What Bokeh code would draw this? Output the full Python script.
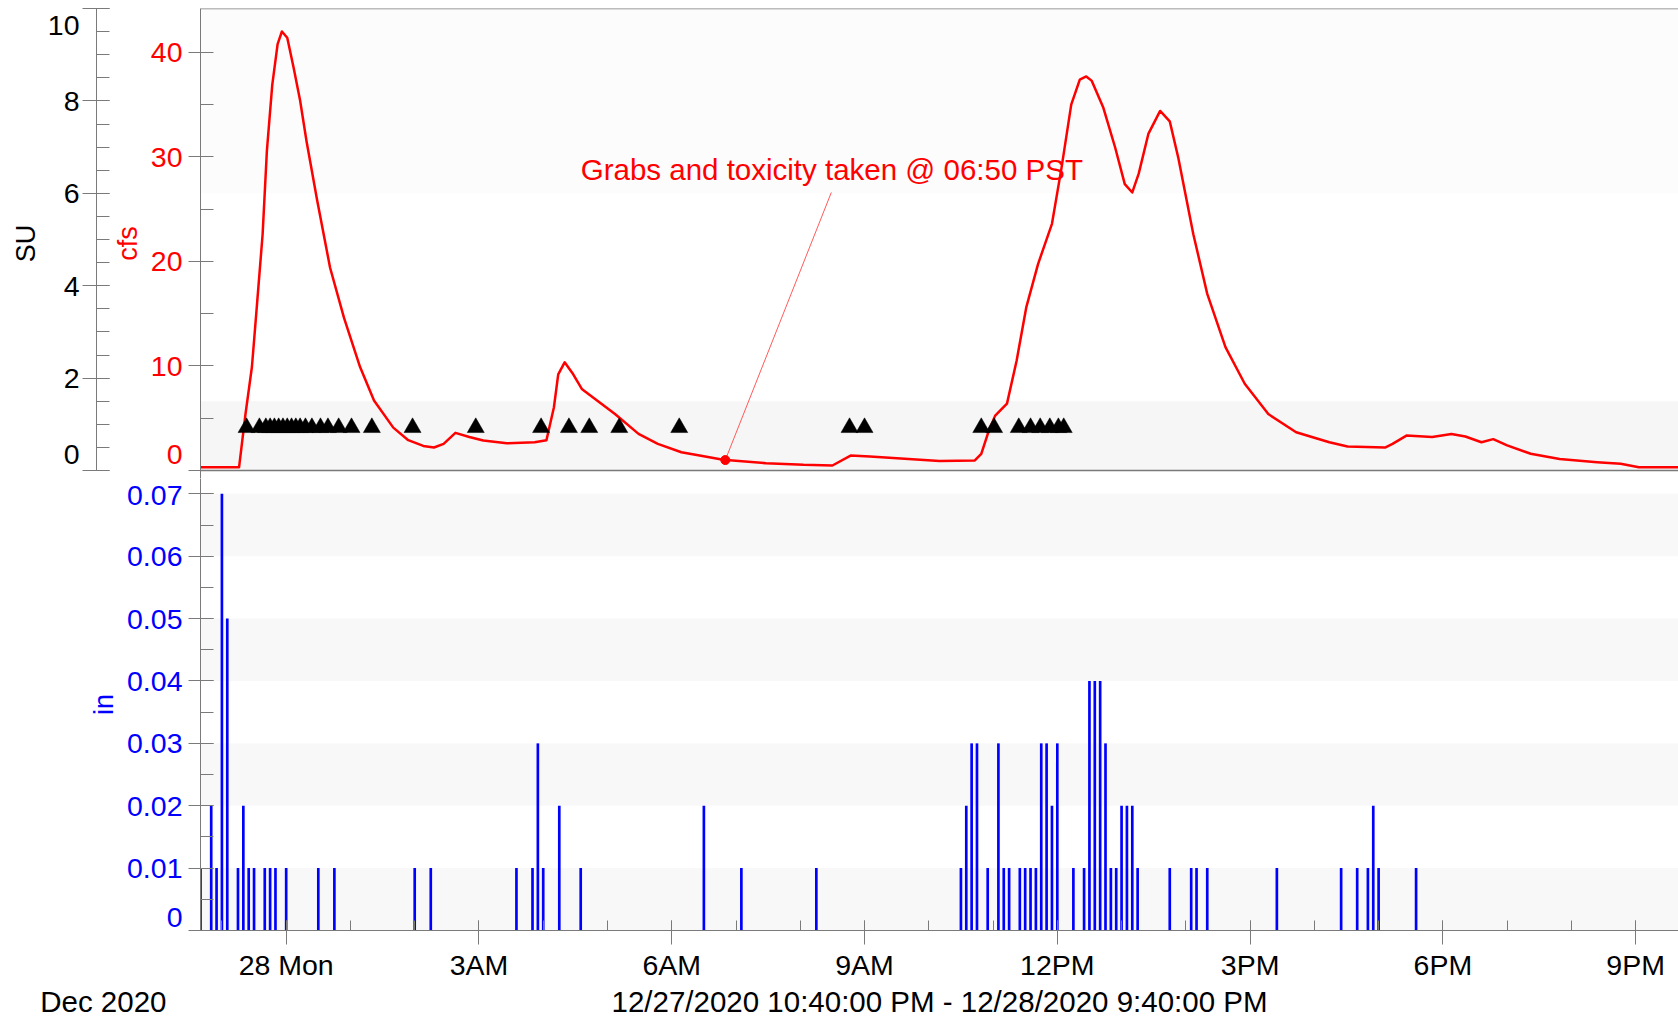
import numpy as np
import pandas as pd
from bokeh.plotting import figure
from bokeh.layouts import column
from bokeh.models import (Range1d, LinearAxis, FixedTicker, BoxAnnotation, Label,
                          Span, ColumnDataSource)
from bokeh.embed import file_html
from bokeh.resources import INLINE

FONT = "Liberation Sans"

# ---------------- data ----------------
x_start_hhmm = "22:40"   # 12/27/2020
x_end_hhmm = "21:40"     # 12/28/2020

flow_hhmm = ["22:40", "23:16", "23:22", "23:28", "23:33", "23:38", "23:42", "23:47", "23:52", "23:56",
             "00:01", "00:07", "00:13", "00:19", "00:29", "00:41", "00:54", "01:09", "01:22", "01:40",
             "01:54", "02:08", "02:18", "02:27", "02:38", "02:51", "03:04", "03:26", "03:52", "04:03",
             "04:10", "04:14", "04:20", "04:28", "04:36", "04:54", "05:07", "05:29", "05:47", "06:09",
             "06:26", "06:48", "07:28", "08:03", "08:30", "08:47", "09:05", "10:10", "10:43", "10:49",
             "10:56", "11:02", "11:13", "11:22", "11:31", "11:42", "11:55", "12:04", "12:13", "12:21",
             "12:27", "12:32", "12:43", "12:54", "13:03", "13:10", "13:16", "13:25", "13:36", "13:45",
             "13:53", "14:07", "14:20", "14:37", "14:55", "15:17", "15:43", "16:14", "16:31", "17:06",
             "17:13", "17:26", "17:50", "18:08", "18:21", "18:36", "18:47", "19:00", "19:22", "19:49",
             "20:24", "20:46", "21:03", "21:40"]
flow_cfs = [0.3, 0.3, 5.4, 9.9, 16.2, 22.6, 30.6, 36.9, 40.8, 42.0,
            41.4, 38.5, 35.4, 31.5, 25.8, 19.4, 14.6, 9.9, 6.7, 4.1,
            2.9, 2.35, 2.2, 2.55, 3.6, 3.2, 2.87, 2.6, 2.7, 2.9,
            6.05, 9.2, 10.35, 9.2, 7.8, 6.4, 5.4, 3.5, 2.55, 1.75,
            1.43, 1.02, 0.70, 0.54, 0.48, 1.43, 1.34, 0.9, 0.96, 1.6,
            3.8, 5.25, 6.4, 10.5, 15.6, 19.75, 23.6, 29.0, 35.0, 37.4,
            37.7, 37.3, 34.7, 30.9, 27.4, 26.6, 28.4, 32.2, 34.4, 33.4,
            29.9, 22.6, 16.9, 11.8, 8.3, 5.4, 3.66, 2.7, 2.3, 2.2,
            2.55, 3.34, 3.2, 3.5, 3.25, 2.7, 3.0, 2.4, 1.6, 1.1,
            0.8, 0.64, 0.32, 0.32]

rain_hhmm = ["22:40", "22:50", "22:55", "23:00", "23:05", "23:15", "23:20", "23:25", "23:30", "23:40",
             "23:45", "23:50", "00:00", "00:30", "00:45", "02:00", "02:15", "03:35", "03:50", "03:55",
             "04:00", "04:15", "04:35", "06:30", "07:05", "08:15", "10:30", "10:35", "10:40", "10:45",
             "10:55", "11:05", "11:10", "11:15", "11:25", "11:30", "11:35", "11:40", "11:45", "11:50",
             "11:55", "12:00", "12:15", "12:25", "12:30", "12:35", "12:40", "12:45", "12:50", "12:55",
             "13:00", "13:05", "13:10", "13:15", "13:45", "14:05", "14:10", "14:20", "15:25", "16:25",
             "16:40", "16:50", "16:55", "17:00", "17:35"]
rain_in = [0.01, 0.02, 0.01, 0.07, 0.05, 0.01, 0.02, 0.01, 0.01, 0.01,
           0.01, 0.01, 0.01, 0.01, 0.01, 0.01, 0.01, 0.01, 0.01, 0.03,
           0.01, 0.02, 0.01, 0.02, 0.01, 0.01, 0.01, 0.02, 0.03, 0.03,
           0.01, 0.03, 0.01, 0.01, 0.01, 0.01, 0.01, 0.01, 0.03, 0.03,
           0.02, 0.03, 0.01, 0.01, 0.04, 0.04, 0.04, 0.03, 0.01, 0.01,
           0.02, 0.02, 0.02, 0.01, 0.01, 0.01, 0.01, 0.01, 0.01, 0.01,
           0.01, 0.01, 0.02, 0.01, 0.01]

sample_hhmm = ["23:23", "23:35", "23:41", "23:45", "23:49", "23:53", "23:57", "00:01", "00:05", "00:09",
               "00:13", "00:18", "00:24", "00:32", "00:39", "00:49", "01:01", "01:20", "01:58", "02:57",
               "03:58", "04:24", "04:43", "05:11", "06:07", "08:46", "09:00", "10:49", "11:01", "11:24",
               "11:35", "11:44", "11:53", "12:01", "12:06"]
sample_level_cfs = 4.1

grab_hhmm = "06:50"
grab_cfs = 1.0
grab_text = "Grabs and toxicity taken @ 06:50 PST"
grab_label_hhmm = "04:35"
grab_label_cfs = 28.75
grab_leader_hhmm = "08:29"
grab_leader_cfs = 26.6

x_tick_hhmm = ["00:00", "03:00", "06:00", "09:00", "12:00", "15:00", "18:00", "21:00"]
x_tick_labels = ["28 Mon", "3AM", "6AM", "9AM", "12PM", "3PM", "6PM", "9PM"]
x_title = "12/27/2020 10:40:00 PM - 12/28/2020 9:40:00 PM"
x_corner = "Dec 2020"

cfs_ticks = [0, 10, 20, 30, 40]
cfs_tick_labels = ["0\n", "10", "20", "30", "40"]      # end labels sit just inside the frame
cfs_max = 44.2
su_ticks = [0, 2, 4, 6, 8, 10]
su_tick_labels = ["0\n", "2", "4", "6", "8", "\n10"]
su_max = 10
su_bands = [(0, 1.5, "#f6f6f6"), (6, 10, "#fcfcfc")]
rain_ticks = [0, 0.01, 0.02, 0.03, 0.04, 0.05, 0.06, 0.07]
rain_tick_labels = ["0\n", "0.01", "0.02", "0.03", "0.04", "0.05", "0.06", "0.07"]
rain_max = 0.07246


def stamp(hhmm):
    day = 27 if int(hhmm[:2]) >= 22 else 28
    return pd.Timestamp(f"2020-12-{day} {hhmm}")


def ms(ts):
    return float(ts.value // 1_000_000)


# ---------------- layout constants ----------------
W = 1678
LEFT = 200
TOP_PAD, TOP_FRAME, TOP_EXTRA = 8, 462, 8     # frame 8..470 for data, 8 px of white below
TOP_H = TOP_PAD + TOP_FRAME + TOP_EXTRA
BOT_H = 505
FOOT_H = 1019 - TOP_H - BOT_H
GRAY = "#7a7a7a"
TICK_FS = "28.5px"

t0, t1 = stamp(x_start_hhmm), stamp(x_end_hhmm)
hour_ms = 3600 * 1000.0
cfs_px = cfs_max / TOP_FRAME
su_px = su_max / TOP_FRAME

xr = Range1d(start=t0, end=t1)

# ---------------- top panel ----------------
p1 = figure(width=W, height=TOP_H, x_range=xr,
            y_range=Range1d(-TOP_EXTRA * cfs_px, cfs_max),
            x_axis_location=None, output_backend="svg", toolbar_location=None,
            min_border_left=LEFT, min_border_right=0, min_border_top=TOP_PAD,
            min_border_bottom=0)
p1.extra_y_ranges = {"su": Range1d(-TOP_EXTRA * su_px, su_max)}
p1.outline_line_color = None
p1.xgrid.visible = False
p1.ygrid.visible = False
p1.background_fill_color = "white"
p1.border_fill_color = "white"

for lo, hi, col in su_bands:
    p1.add_layout(BoxAnnotation(bottom=lo, top=hi, y_range_name="su", fill_color=col,
                                fill_alpha=1, line_color=None, level="underlay"))


def style_y(ax, color, out_len, in_len, line_height):
    ax.axis_line_color = GRAY
    ax.axis_line_width = 1
    ax.major_tick_line_color = GRAY
    ax.minor_tick_line_color = GRAY
    ax.major_tick_out = out_len
    ax.major_tick_in = in_len
    ax.minor_tick_out = 0
    ax.minor_tick_in = in_len
    ax.major_label_text_font = FONT
    ax.major_label_text_font_size = TICK_FS
    ax.major_label_text_color = color
    ax.major_label_text_line_height = line_height
    ax.axis_label_text_font = FONT
    ax.axis_label_text_font_size = "27px"
    ax.axis_label_text_font_style = "normal"
    ax.axis_label_text_color = color


cfs_ax = p1.yaxis[0]
cfs_ax.ticker = FixedTicker(ticks=cfs_ticks,
                            minor_ticks=list(np.array(cfs_ticks[:-1]) + 5))
style_y(cfs_ax, "#ff0000", 12, 13, 0.26)
cfs_ax.major_label_overrides = {float(k): v for k, v in zip(cfs_ticks, cfs_tick_labels)}
cfs_ax.major_label_standoff = 6
cfs_ax.axis_label = "cfs"
cfs_ax.axis_label_standoff = 5

spacer = LinearAxis(y_range_name="su", ticker=FixedTicker(ticks=[]),
                    axis_line_color=None, major_tick_line_color=None, minor_tick_line_color=None,
                    major_tick_out=0, major_tick_in=0, minor_tick_out=0, minor_tick_in=0,
                    major_label_standoff=0, axis_label="\u00a0",
                    axis_label_text_font_size="1px", axis_label_standoff=9)
p1.add_layout(spacer, "left")

su_ax = LinearAxis(y_range_name="su", bounds=(0, su_max),
                   ticker=FixedTicker(ticks=su_ticks, minor_ticks=list(np.arange(0, su_max + 0.01, 0.5))))
style_y(su_ax, "black", 14, 13, 0.26)
su_ax.major_label_overrides = {float(k): v for k, v in zip(su_ticks, su_tick_labels)}
su_ax.major_label_standoff = 3
su_ax.axis_label = "SU"
su_ax.axis_label_standoff = 4
p1.add_layout(su_ax, "left")

p1.add_layout(Span(location=cfs_max, dimension="width", line_color=GRAY, line_width=1.5))
p1.add_layout(Span(location=0, dimension="width", line_color=GRAY, line_width=1.5))

flow_src = ColumnDataSource(dict(t=[stamp(h) for h in flow_hhmm], cfs=flow_cfs))
p1.line(x="t", y="cfs", source=flow_src, line_color="#ff0000", line_width=2.5, line_join="round")

samp_src = ColumnDataSource(dict(t=[stamp(h) for h in sample_hhmm],
                                 y=[sample_level_cfs] * len(sample_hhmm)))
p1.scatter(x="t", y="y", source=samp_src, marker="triangle", size=17,
           fill_color="black", line_color="black", line_width=0.5)

p1.segment(x0=[stamp(grab_hhmm)], y0=[grab_cfs], x1=[stamp(grab_leader_hhmm)], y1=[grab_leader_cfs],
           line_color="#ff5a5a", line_width=1)
p1.scatter(x=[stamp(grab_hhmm)], y=[grab_cfs], size=9, fill_color="#ff0000", line_color="#ff0000")
p1.add_layout(Label(x=stamp(grab_label_hhmm), y=grab_label_cfs, text=grab_text,
                    text_font=FONT, text_font_size="29.5px", text_color="#ff0000",
                    text_baseline="middle"))

# ---------------- bottom panel ----------------
p2 = figure(width=W, height=BOT_H, x_range=xr, y_range=Range1d(0, rain_max),
            x_axis_type="datetime", output_backend="svg", toolbar_location=None,
            min_border_left=LEFT, min_border_right=0, min_border_top=0, min_border_bottom=0)
p2.outline_line_color = None
p2.xgrid.visible = False
p2.ygrid.visible = False
p2.background_fill_color = "white"
p2.border_fill_color = "white"

for lo, hi in zip(rain_ticks[0::2], rain_ticks[1::2]):
    p2.add_layout(BoxAnnotation(bottom=lo, top=hi, fill_color="#f8f8f8", fill_alpha=1,
                                line_color=None, level="underlay"))

rain_src = ColumnDataSource(dict(t=[stamp(h) for h in rain_hhmm], v=rain_in))
p2.vbar(x="t", top="v", width=150000, source=rain_src, fill_color="#0000ff", line_color=None)

rain_ax = p2.yaxis[0]
rain_ax.ticker = FixedTicker(ticks=rain_ticks,
                             minor_ticks=list(np.round(np.arange(0, 0.0701, 0.005), 3)))
style_y(rain_ax, "#0000ff", 12, 13, 0.85)
rain_ax.major_label_overrides = {float(k): v for k, v in zip(rain_ticks, rain_tick_labels)}
rain_ax.major_label_standoff = 6
rain_ax.axis_label = "in"
rain_ax.axis_label_standoff = 5

xa = p2.xaxis[0]
major_ms = [ms(stamp(h)) for h in x_tick_hhmm]
minor_ms = list(np.arange(ms(t0) + hour_ms / 3, ms(t1) + 1, hour_ms))
xa.ticker = FixedTicker(ticks=major_ms, minor_ticks=minor_ms)
xa.major_label_overrides = {k: v for k, v in zip(major_ms, x_tick_labels)}
xa.axis_line_color = GRAY
xa.major_tick_line_color = GRAY
xa.minor_tick_line_color = GRAY
xa.major_tick_out = 14
xa.major_tick_in = 10
xa.minor_tick_out = 0
xa.minor_tick_in = 10
xa.major_label_standoff = 4
xa.major_label_text_font = FONT
xa.major_label_text_font_size = TICK_FS
xa.major_label_text_color = "black"

# ---------------- footer line: corner date + time span ----------------
p3 = figure(width=W, height=FOOT_H, x_range=Range1d(LEFT, W), y_range=Range1d(0, FOOT_H),
            x_axis_location=None, y_axis_location=None, output_backend="svg",
            toolbar_location=None, min_border_left=LEFT, min_border_right=0,
            min_border_top=0, min_border_bottom=0)
p3.outline_line_color = None
p3.grid.visible = False
p3.background_fill_color = "white"
p3.border_fill_color = "white"
corner_ax = LinearAxis(ticker=FixedTicker(ticks=[]), axis_line_color=None,
                       major_tick_line_color=None, minor_tick_line_color=None,
                       major_tick_out=0, major_tick_in=0, minor_tick_out=0, minor_tick_in=0,
                       major_label_standoff=0, axis_label=x_corner,
                       axis_label_orientation="horizontal", axis_label_standoff=34,
                       axis_label_text_font=FONT, axis_label_text_font_size="29.5px",
                       axis_label_text_font_style="normal", axis_label_text_color="black")
p3.add_layout(corner_ax, "left")
p3.add_layout(Label(x=(LEFT + W) / 2, y=FOOT_H / 2, text=x_title, text_font=FONT,
                    text_font_size="29.5px", text_color="black", text_align="center",
                    text_baseline="middle"))

layout = column(p1, p2, p3, spacing=0)
open("out.html", "w").write(file_html(layout, INLINE))
